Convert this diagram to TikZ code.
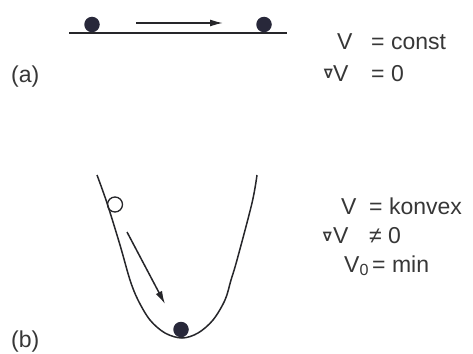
\documentclass[tikz,border=0pt]{standalone}
\usepackage{fontspec}
\setmainfont{Liberation Sans}
\newfontfamily\nabfont{DejaVu Sans}
\usetikzlibrary{arrows.meta}
\definecolor{ink}{RGB}{38,38,42}
\definecolor{ballc}{RGB}{40,40,58}
\definecolor{txt}{RGB}{55,55,55}
\tikzset{
  lbl/.style={anchor=base west, inner sep=0pt, text=txt, font=\fontsize{23}{26}\selectfont},
  nab/.style={anchor=center, inner sep=0pt, text=txt, font=\nabfont\bfseries\fontsize{13}{15}\selectfont},
  ball/.style={circle, fill=ballc, minimum size=15.5pt, inner sep=0pt},
  openball/.style={circle, draw=ink, line width=1.3pt, minimum size=15pt, inner sep=0pt},
  ln/.style={draw=ink, line width=1.5pt},
  arr/.style={ln, -{Latex[length=13pt,width=7pt]}}
}
\begin{document}
\begin{tikzpicture}[x=1pt,y=-1pt]
\path[use as bounding box, fill=white] (0,0) rectangle (473,353);
% (a)
\coordinate (gl) at (69,33);
\coordinate (gr) at (287,33);
\draw[ln] (gl) -- (gr);
\node[ball] (b1) at (92,24.5) {};
\node[ball] (b2) at (264,24.5) {};
\coordinate (a1s) at (136,23);
\coordinate (a1e) at (223,23);
\draw[arr] (a1s) -- (a1e);
\node[lbl] (la) at (11,82) {(a)};
\node[lbl] (t1v) at (337,49) {V};
\node[lbl] (t1r) at (371,49) {= const};
\node[nab] (t2n) at (328.5,73.5) {∇};
\node[lbl] (t2v) at (333,81) {V};
\node[lbl] (t2r) at (371,81) {= 0};
% (b)
\draw[ln] plot[smooth, tension=0.55] coordinates {(97,175) (107,203) (120,245) (130,280) (138,300) (150,320) (165,333) (182,338) (198,333) (213,320) (225,300) (231,280) (237,260) (252,203) (257,175)};
\node[openball] (ob) at (115,204.5) {};
\node[ball] (b3) at (181,329.5) {};
\coordinate (a2s) at (127,232);
\coordinate (a2e) at (165,304);
\draw[arr] (a2s) -- (a2e);
\node[lbl] (lb) at (11,347) {(b)};
\node[lbl] (u1v) at (341,214) {V};
\node[lbl] (u1r) at (369,214) {= konvex};
\node[nab] (u2n) at (327.5,236.5) {∇};
\node[lbl] (u2v) at (333,243) {V};
\node[lbl] (u2r) at (369,243) {≠ 0};
\node[lbl] (u3v) at (344,272) {V\textsubscript{0}};
\node[lbl] (u3r) at (372,272) {= min};
\end{tikzpicture}
\end{document}
